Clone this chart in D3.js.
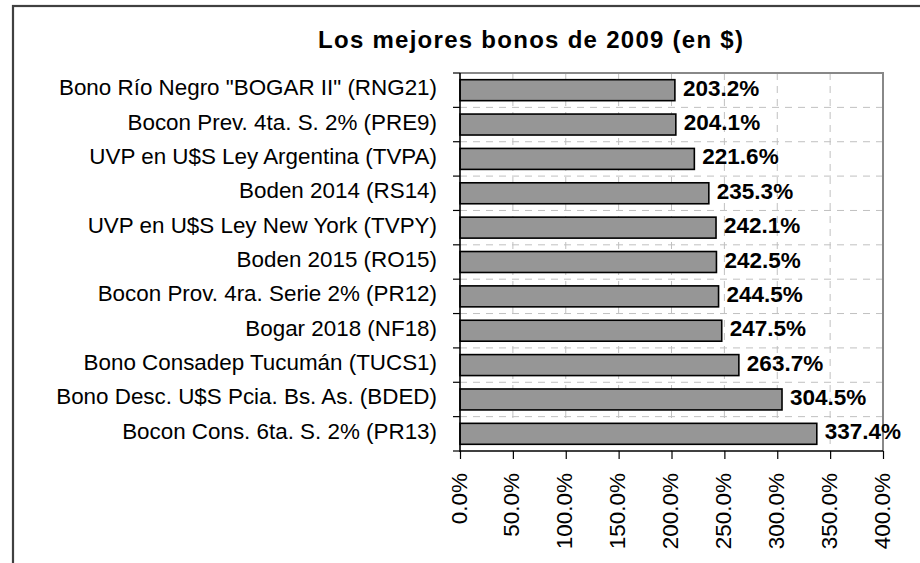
<!DOCTYPE html>
<html><head><meta charset="utf-8">
<script src="https://cdn.jsdelivr.net/npm/d3@7/dist/d3.min.js"></script>
<style>body{margin:0;background:#fff}svg{display:block;font-family:"Liberation Sans",Arial,sans-serif}</style>
</head><body><svg id="c" width="920" height="563"></svg>
<script>
const categories = [
  'Bono Río Negro "BOGAR II" (RNG21)',
  'Bocon Prev. 4ta. S. 2% (PRE9)',
  'UVP en U$S Ley Argentina (TVPA)',
  'Boden 2014 (RS14)',
  'UVP en U$S Ley New York (TVPY)',
  'Boden 2015 (RO15)',
  'Bocon Prov. 4ra. Serie 2% (PR12)',
  'Bogar 2018 (NF18)',
  'Bono Consadep Tucumán (TUCS1)',
  'Bono Desc. U$S Pcia. Bs. As. (BDED)',
  'Bocon Cons. 6ta. S. 2% (PR13)'
];
const values = [203.2, 204.1, 221.6, 235.3, 242.1, 242.5, 244.5, 247.5, 263.7, 304.5, 337.4];
const xTicks = [0, 50, 100, 150, 200, 250, 300, 350, 400];
const title = "Los mejores bonos de 2009 (en $)";

const svg = d3.select("#c");
const L = 460, R = 883, T = 73, B = 451;

// outer frame (cropped)
svg.append("rect").attr("x", 13).attr("y", 6).attr("width", 1000).attr("height", 1000)
  .attr("fill", "#fff").attr("stroke", "#404040").attr("stroke-width", 2.2);

const x = d3.scaleLinear().domain([0, 400]).range([L, R]);
const y = d3.scaleBand().domain(categories).range([T, B]).paddingInner(0.39).paddingOuter(0.195);
const yb = d3.scaleBand().domain(categories).range([T, B]);

// gridlines
const g = svg.append("g");
g.selectAll(".vg").data(xTicks.filter(t => t > 0 && t < 400)).join("line")
  .attr("x1", d => x(d)).attr("x2", d => x(d)).attr("y1", T).attr("y2", B)
  .attr("stroke", "#c0c0c0").attr("stroke-width", 1).attr("stroke-dasharray", "7,6");
g.selectAll(".hg").data(categories.slice(1)).join("line")
  .attr("x1", L).attr("x2", R).attr("y1", d => yb(d)).attr("y2", d => yb(d))
  .attr("stroke", "#c0c0c0").attr("stroke-width", 1).attr("stroke-dasharray", "7,6");

// plot border top/right
svg.append("path").attr("d", `M${L},${T}H${R}V${B}`).attr("fill", "none")
  .attr("stroke", "#888").attr("stroke-width", 2);

// bars
svg.selectAll(".bar").data(values).join("rect")
  .attr("x", x(0)).attr("y", (d, i) => y(categories[i]))
  .attr("width", d => x(d) - x(0)).attr("height", y.bandwidth())
  .attr("fill", "#969696").attr("stroke", "#000").attr("stroke-width", 1.6);

// value labels
svg.selectAll(".vl").data(values).join("text")
  .attr("x", d => x(d) + 8).attr("y", (d, i) => yb(categories[i]) + yb.bandwidth() / 2 + 5.5)
  .attr("font-size", 22.5).attr("font-weight", "bold").attr("fill", "#000")
  .text(d => d.toFixed(1) + "%");

// y axis
svg.append("line").attr("x1", L).attr("x2", L).attr("y1", T).attr("y2", B + 1).attr("stroke", "#000").attr("stroke-width", 1.6);
const bounds = categories.map(c => yb(c)).concat([B]);
svg.selectAll(".yt").data(bounds).join("line")
  .attr("x1", L - 7).attr("x2", L).attr("y1", d => d).attr("y2", d => d)
  .attr("stroke", "#000").attr("stroke-width", 1.2);
svg.selectAll(".cl").data(categories).join("text")
  .attr("x", 437).attr("y", d => yb(d) + yb.bandwidth() / 2 + 5)
  .attr("text-anchor", "end").attr("font-size", 22.4).attr("fill", "#000")
  .text(d => d);

// x axis
svg.append("line").attr("x1", L).attr("x2", R).attr("y1", B).attr("y2", B).attr("stroke", "#000").attr("stroke-width", 1.6);
const xAxis = d3.axisBottom(x).tickValues(xTicks).tickSize(8).tickFormat(d => d.toFixed(1) + "%");
const xa = svg.append("g").attr("transform", `translate(0,${B})`).call(xAxis);
xa.select(".domain").remove();
xa.selectAll(".tick line").attr("stroke", "#000").attr("stroke-width", 1.2);
xa.selectAll(".tick text")
  .attr("font-size", 22.5).attr("font-family", '"Liberation Sans",Arial,sans-serif').attr("fill", "#000")
  .attr("text-anchor", "end").attr("dy", null)
  .attr("transform", "translate(0,22) rotate(-90)")
  .attr("x", 0).attr("y", 6);

// title
svg.append("text").attr("x", 530.5).attr("y", 48).attr("text-anchor", "middle")
  .attr("font-size", 24).attr("font-weight", "bold").attr("fill", "#000")
  .attr("textLength", 425).attr("lengthAdjust", "spacing")
  .text(title);
</script></body></html>
